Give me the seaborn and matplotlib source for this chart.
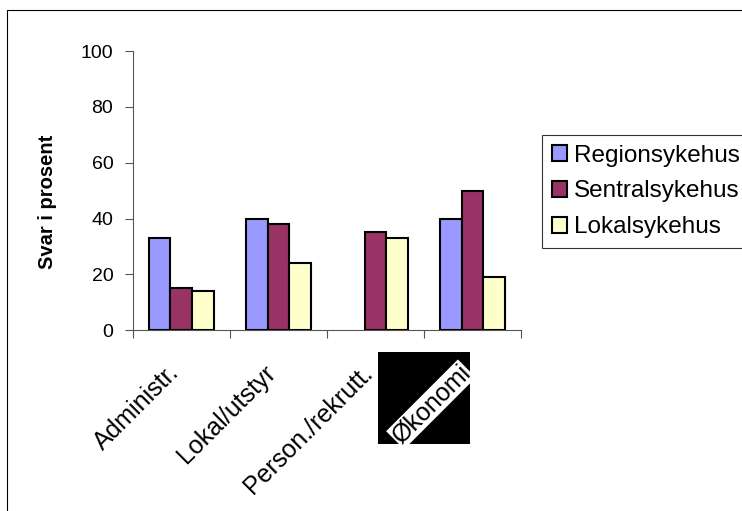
import matplotlib
matplotlib.use('Agg')
import matplotlib.pyplot as plt
import matplotlib.transforms as mtransforms
import pandas as pd
import seaborn as sns
import numpy as np
from matplotlib.patches import Rectangle

categories = ['Administr.', 'Lokal/utstyr', 'Person./rekrutt.', 'Økonomi']
regionsykehus = [33, 40, np.nan, 40]
sentralsykehus = [15, 38, 35, 50]
lokalsykehus = [14, 24, 33, 19]
series_names = ['Regionsykehus', 'Sentralsykehus', 'Lokalsykehus']
colors = ['#9999FF', '#993366', '#FFFFCC']

df = pd.DataFrame({
    'kategori': categories * 3,
    'serie': sum([[s] * len(categories) for s in series_names], []),
    'verdi': regionsykehus + sentralsykehus + lokalsykehus,
})

sns.set_style('white')
plt.rcParams['font.family'] = ['Liberation Sans', 'DejaVu Sans']
plt.rcParams['text.color'] = 'black'
plt.rcParams['xtick.color'] = 'black'
plt.rcParams['ytick.color'] = 'black'
plt.rcParams['axes.labelcolor'] = 'black'

fig = plt.figure(figsize=(7.42, 5.11), dpi=100)
ax = fig.add_axes([0.179, 0.354, 0.523, 0.546])

sns.barplot(data=df, x='kategori', y='verdi', hue='serie', palette=colors,
            order=categories, hue_order=series_names, width=0.67, saturation=1,
            edgecolor='black', linewidth=1.5, ax=ax, legend=True)

ax.set_ylim(0, 100)
ax.set_xlim(-0.5, len(categories) - 0.5)
ax.set_yticks(np.arange(0, 101, 20))
ax.tick_params(axis='y', labelsize=14, length=6, width=0.8, color='#555555',
               left=True, pad=8)
ax.set_xticks(np.arange(len(categories)))
ax.set_xticks(np.arange(-0.5, len(categories)), minor=True)
ax.tick_params(axis='x', which='major', length=0, pad=28)
ax.tick_params(axis='x', which='minor', length=6, width=0.8, color='#555555', bottom=True)
ax.set_xticklabels(categories, rotation=45, ha='right', va='center',
                   rotation_mode='anchor', fontsize=18)
shift = mtransforms.ScaledTranslation(-6 / 100, 0, fig.dpi_scale_trans)
for lab in ax.get_xticklabels():
    lab.set_transform(lab.get_transform() + shift)

ax.set_xlabel('')
ax.set_ylabel('Svar i prosent', fontsize=14.5, fontweight='bold')
ax.yaxis.set_label_coords(-0.196, 0.459)

for side in ['top', 'right']:
    ax.spines[side].set_visible(False)
for side in ['left', 'bottom']:
    ax.spines[side].set_color('#555555')
    ax.spines[side].set_linewidth(0.8)

# Økonomi label: white box on a black square
lbl = ax.get_xticklabels()[3]
lbl.set_bbox(dict(facecolor='white', edgecolor='none', pad=0.5))
ax.add_patch(Rectangle((378 / 742, 1 - 444 / 511), 92 / 742, 92 / 511,
                       transform=fig.transFigure, facecolor='black',
                       edgecolor='none', zorder=0.1, clip_on=False))

leg = ax.legend(loc='upper left', bbox_to_anchor=(1.054, 0.70), fontsize=17.5,
                frameon=True, fancybox=False, edgecolor='black',
                handlelength=0.62, handleheight=0.62, handletextpad=0.3,
                borderpad=0.4, labelspacing=0.57, borderaxespad=0)
leg.get_frame().set_linewidth(0.8)

# outer frame
fig.patches.append(Rectangle((7 / 742, -0.01), 1, 1 - 10 / 511 + 0.01,
                             transform=fig.transFigure, facecolor='none',
                             edgecolor='black', linewidth=0.8))

fig.savefig('out.png', dpi=100)
